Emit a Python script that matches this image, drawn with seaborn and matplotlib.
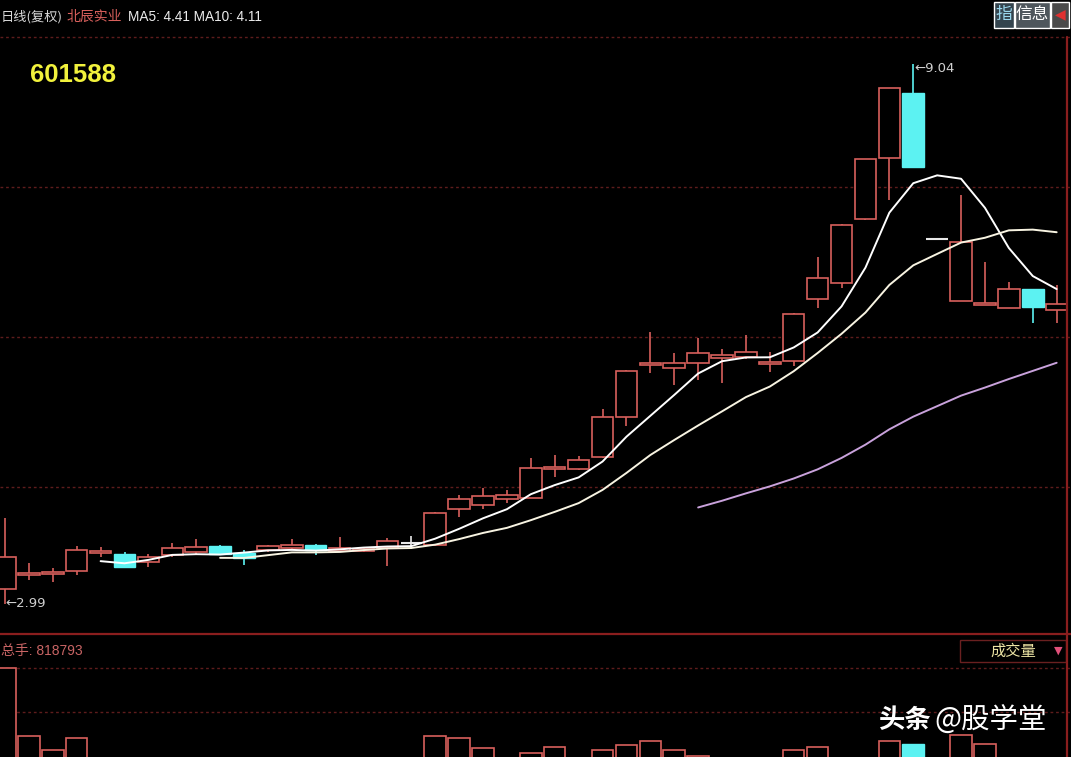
import numpy as np
import pandas as pd
import matplotlib
matplotlib.use("Agg")
import matplotlib.pyplot as plt
from matplotlib.lines import Line2D
from matplotlib.patches import Rectangle
import seaborn as sns

# ==============================
# Données (601588 北辰实业, daily, 复权)
# ==============================
opens = [3.16, 3.32, 3.33, 3.36, 3.56, 3.55, 3.46, 3.54, 3.57, 3.64,
         3.56, 3.59, 3.62, 3.65, 3.58, 3.58, 3.62, 3.67, 3.65, 4.05,
         4.10, 4.17, 4.18, 4.50, 4.50, 4.64, 5.09, 5.67, 5.63, 5.69,
         5.75, 5.76, 5.68, 5.71, 6.41, 6.59, 7.30, 7.99, 8.72, 7.08,
         6.38, 6.34, 6.31, 6.52, 6.28]
highs = [3.95, 3.45, 3.39, 3.64, 3.63, 3.57, 3.55, 3.67, 3.72, 3.65,
         3.59, 3.65, 3.72, 3.66, 3.74, 3.63, 3.73, 3.75, 4.02, 4.21,
         4.29, 4.27, 4.63, 4.66, 4.65, 5.17, 5.61, 6.04, 5.80, 5.97,
         5.85, 6.00, 5.81, 6.25, 6.88, 7.25, 7.98, 8.77, 9.04, 7.08,
         7.57, 6.82, 6.60, 6.52, 6.56]
lows = [2.99, 3.26, 3.24, 3.31, 3.52, 3.39, 3.40, 3.52, 3.55, 3.54,
        3.43, 3.57, 3.61, 3.54, 3.57, 3.57, 3.42, 3.61, 3.64, 3.96,
        4.05, 4.12, 4.18, 4.41, 4.49, 4.63, 4.98, 5.58, 5.44, 5.50,
        5.47, 5.74, 5.59, 5.66, 6.31, 6.53, 7.29, 7.52, 7.89, 7.08,
        6.38, 6.34, 6.31, 6.14, 6.14]
closes = [3.52, 3.33, 3.34, 3.59, 3.57, 3.40, 3.52, 3.62, 3.63, 3.55,
          3.51, 3.64, 3.65, 3.59, 3.62, 3.61, 3.70, 3.67, 4.01, 4.17,
          4.20, 4.21, 4.51, 4.52, 4.60, 5.09, 5.60, 5.68, 5.69, 5.80,
          5.78, 5.81, 5.69, 6.24, 6.64, 7.24, 7.98, 8.77, 7.89, 7.08,
          7.05, 6.35, 6.52, 6.32, 6.35]
# volume (万手), only the tops of the tallest bars are visible
volumes = [180, 127, 116, 126, 80, 75, 60, 70, 85, 65,
           55, 60, 70, 65, 55, 60, 95, 70, 127, 126,
           118, 95, 114, 119, 100, 116, 120, 123, 116, 112,
           90, 85, 80, 116, 119, 105, 60, 123, 121, 15,
           128, 121, 95, 90, 82]
grid_prices = [4.30, 5.98, 7.66]
vol_grid = [145.9, 180]

title_left = "日线(复权)"
stock_name = "北辰实业"
ma_text = "MA5: 4.41 MA10: 4.11"
stock_code = "601588"
vol_text = "总手: 818793"

df = pd.DataFrame({"open": opens, "high": highs, "low": lows,
                   "close": closes, "volume": volumes})
df["i"] = np.arange(len(df))
df["ma5"] = df["close"].rolling(5).mean()
df["ma10"] = df["close"].rolling(10).mean()
df["ma30"] = df["close"].rolling(30).mean()

RED = "#d8605c"
CYAN = "#5cf2f2"
FLAT = "#e8e8e8"
GRID = "#5e1c1c"

sns.set_style("dark")
plt.rcParams["font.family"] = ["Liberation Sans", "Noto Sans CJK SC", "DejaVu Sans"]
CJK = ["Noto Sans CJK SC", "DejaVu Sans"]

W, H = 1071, 757
fig = plt.figure(figsize=(W / 100, H / 100), dpi=100, facecolor="black")


def fx(x):
    return x / W


def fy(y):
    return 1 - y / H


XL = (-0.209, 44.6)

# ==============================
# Graphique principal (bougies + moyennes mobiles)
# ==============================
ax = fig.add_axes([0, fy(633), 1, fy(37) - fy(633)], facecolor="black")
ax.set_xlim(*XL)
ax.set_ylim(2.665, 9.342)

for p in grid_prices:
    ax.axhline(p, color=GRID, lw=1.0, ls=(0, (2, 2)), zorder=0)

up = df["close"] > df["open"]
down = df["close"] < df["open"]
flat = ~(up | down)
top = df[["open", "close"]].max(axis=1)
bot = df[["open", "close"]].min(axis=1)
cols = np.where(up, RED, np.where(down, CYAN, FLAT))

ax.vlines(df["i"], top, df["high"], colors=cols, lw=1.2, zorder=2)
ax.vlines(df["i"], df["low"], bot, colors=cols, lw=1.2, zorder=2)
h = (top - bot).clip(lower=0.02)
ax.bar(df["i"][up], h[up], bottom=bot[up], width=0.9, facecolor="black",
       edgecolor=RED, linewidth=1.2, zorder=3)
ax.bar(df["i"][down], h[down], bottom=bot[down], width=0.9, facecolor=CYAN,
       edgecolor=CYAN, linewidth=1.0, zorder=3)
ax.hlines(df["close"][flat], df["i"][flat] - 0.45, df["i"][flat] + 0.45,
          colors=FLAT, lw=1.5, zorder=3)

sns.lineplot(data=df, x="i", y="ma5", ax=ax, color="white", lw=1.4, zorder=5)
sns.lineplot(data=df, x="i", y="ma10", ax=ax, color="#f8f4e2", lw=1.4, zorder=5)
sns.lineplot(data=df, x="i", y="ma30", ax=ax, color="#c9a2dc", lw=1.4, zorder=5)

imax = int(df["high"].idxmax())
imin = int(df["low"].idxmin())
ax.annotate("←%.2f" % df["high"][imax], (imax + 0.05, df["high"][imax]),
            xytext=(0, -3), textcoords="offset points", color="#d0d0d0",
            fontsize=9.5, va="center", ha="left", family=["DejaVu Sans"])
ax.annotate("←%.2f" % df["low"][imin], (imin + 0.02, df["low"][imin]),
            xytext=(0, 0), textcoords="offset points", color="#d0d0d0",
            fontsize=9.5, va="center", ha="left", family=["DejaVu Sans"])

ax.set_xticks([])
ax.set_yticks([])
ax.set_xlabel("")
ax.set_ylabel("")
for s in ax.spines.values():
    s.set_visible(False)

# ==============================
# Volume
# ==============================
vax = fig.add_axes([0, 0, 1, fy(640)], facecolor="black")
vax.set_xlim(*XL)
vax.set_ylim(110.95, 201.7)
for v in vol_grid:
    vax.axhline(v, color=GRID, lw=1.0, ls=(0, (2, 2)), zorder=0)
vax.bar(df["i"][~down], df["volume"][~down], width=0.9, facecolor="black",
        edgecolor=RED, linewidth=1.2, zorder=3)
vax.bar(df["i"][down], df["volume"][down], width=0.9, facecolor=CYAN,
        edgecolor=CYAN, linewidth=1.0, zorder=3)
vax.set_xticks([])
vax.set_yticks([])
for s in vax.spines.values():
    s.set_visible(False)

# ==============================
# Cadres et textes
# ==============================
fig.add_artist(Line2D([0, 1], [fy(37), fy(37)], color=GRID, lw=1.0, ls=(0, (2, 2))))
fig.add_artist(Line2D([0, 1], [fy(634), fy(634)], color="#8a1e1e", lw=1.6))
fig.add_artist(Line2D([fx(1067), fx(1067)], [0, fy(37)], color="#8a1e1e", lw=1.6))
fig.add_artist(Rectangle((fx(960), fy(662)), fx(1066) - fx(960), fy(640) - fy(662),
                         facecolor="black", edgecolor="#6a2020", lw=1.0))

fig.text(fx(1), fy(17), title_left, color="#d8d8d8", fontsize=9.5, va="center", family=CJK)
fig.text(fx(67), fy(17), stock_name, color=RED, fontsize=10, va="center", family=CJK)
fig.text(fx(128), fy(17), ma_text, color="#ececec", fontsize=9.8, va="center")
fig.text(fx(30), fy(75), stock_code, color="#f2f23c", fontsize=18.5, weight="bold",
         va="center")

# boutons en haut à droite
fig.add_artist(Rectangle((fx(994), fy(28)), fx(20), fy(0) - fy(26), facecolor="#34444e"))
fig.add_artist(Rectangle((fx(1015), fy(28)), fx(35), fy(0) - fy(26), facecolor="#4e565c"))
fig.add_artist(Rectangle((fx(1051), fy(28)), fx(18), fy(0) - fy(26), facecolor="#4a4a4a"))
fig.text(fx(1004), fy(14), "指", color="#9ad8ee", fontsize=12, ha="center", va="center", family=CJK)
fig.text(fx(1032), fy(14), "信息", color="white", fontsize=12, ha="center", va="center", family=CJK)
fig.text(fx(1060), fy(14), "◀", color="#e03030", fontsize=10, ha="center", va="center",
         family=["DejaVu Sans"])

fig.text(fx(1), fy(651), vol_text, color="#c86464", fontsize=10, va="center")
fig.text(fx(1013), fy(651), "成交量", color="#ece4a4", fontsize=11, ha="center", va="center", family=CJK)
fig.text(fx(1058), fy(651), "▼", color="#e0507a", fontsize=8, ha="center", va="center",
         family=["DejaVu Sans"])

fig.text(fx(878), fy(721), "头条", color="white", fontsize=19, weight="bold", va="center", family=CJK)
fig.text(fx(934), fy(721), "@股学堂", color="white", fontsize=20.5, va="center", family=CJK)

fig.savefig("out.png", dpi=100, facecolor="black")
